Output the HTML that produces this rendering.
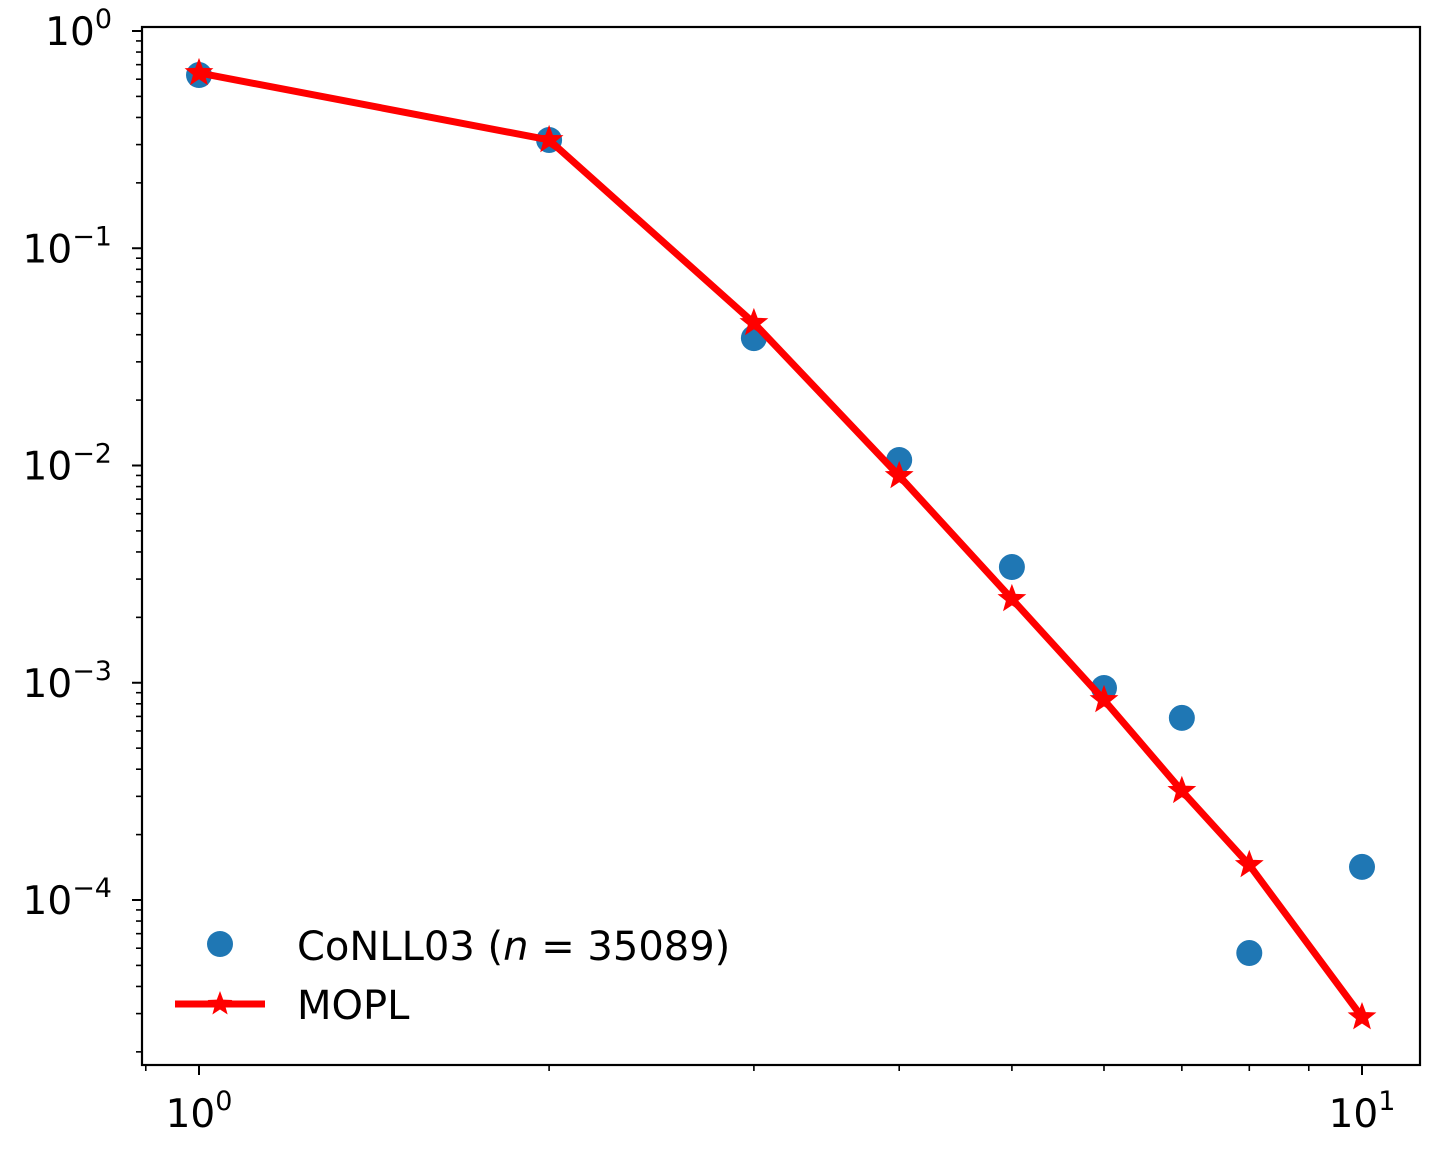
<!DOCTYPE html>
<html><head><meta charset="utf-8"><style>
html,body{margin:0;padding:0;background:#fff;}
svg{display:block;font-family:"DejaVu Sans","Liberation Sans",sans-serif;}
</style></head><body>
<svg id="chart" width="1434" height="1151" xmlns="http://www.w3.org/2000/svg"></svg>
<script>
const xValues = [1, 2, 3, 4, 5, 6, 7, 8, 10];
const conllValues = [0.627, 0.315, 0.0386, 0.0106, 0.00341, 0.000946, 0.000689, 0.000057, 0.000142];
const moplValues = [0.641, 0.315, 0.0453, 0.00895, 0.00243, 0.000833, 0.000318, 0.000145, 0.0000289];
const xTickExps = [0, 1];
const yTickExps = [0, -1, -2, -3, -4];

const L = 142, R = 1420, T = 27, B = 1065;
const X0 = 199, XDEC = 1163, Y0 = 31, YDEC = 217.25;
function sx(v){ return X0 + Math.log10(v) * XDEC; }
function sy(v){ return Y0 - Math.log10(v) * YDEC; }

const svg = document.getElementById('chart');
const NS = 'http://www.w3.org/2000/svg';
function mk(tag, attrs, parent){
  const e = document.createElementNS(NS, tag);
  for (const k in attrs) e.setAttribute(k, attrs[k]);
  (parent || svg).appendChild(e);
  return e;
}

const defs = mk('defs', {});
const cp = mk('clipPath', {id: 'clip'}, defs);
mk('rect', {x: L, y: T, width: R - L, height: B - T}, cp);

const ticks = mk('g', {stroke: '#000'});


for (let e = -1; e <= 1; e++) {
  for (let m = 1; m <= 9; m++) {
    const v = m * Math.pow(10, e);
    const x = sx(v);
    if (x < L - 0.5 || x > R + 0.5) continue;
    const major = m === 1;
    mk('line', {x1: x, x2: x, y1: B, y2: B + (major ? 10 : 6), 'stroke-width': major ? 2 : 1.6}, ticks);
  }
}
for (let e = -5; e <= 0; e++) {
  for (let m = 1; m <= 9; m++) {
    const v = m * Math.pow(10, e);
    const y = sy(v);
    if (y < T - 0.5 || y > B + 0.5) continue;
    const major = m === 1;
    mk('line', {x1: L, x2: L - (major ? 10 : 6), y1: y, y2: y, 'stroke-width': major ? 2 : 1.6}, ticks);
  }
}

xTickExps.forEach(function(e){
  const t = mk('text', {x: sx(Math.pow(10, e)), y: 1127, 'font-size': 39, 'text-anchor': 'middle'});
  
  
  t.innerHTML = '10<tspan dy="-17" font-size="27">' + e + '</tspan>';
});
yTickExps.forEach(function(e){
  const t = mk('text', {x: 112, y: sy(Math.pow(10, e)) + 14, 'font-size': 39, 'text-anchor': 'end'});
  
  
  t.innerHTML = '10<tspan dy="-17" font-size="27">' + (e < 0 ? '\u2212' + (-e) : e) + '</tspan>';
});

const plot = mk('g', {'clip-path': 'url(#clip)'});



xValues.forEach(function(x, i){
  const c = mk('circle', {cx: sx(x), cy: sy(conllValues[i]), r: 13, fill: '#1f77b4'}, plot);
  
  
});

const pts = xValues.map(function(x, i){ return sx(x) + ',' + sy(moplValues[i]); }).join(' ');
const line = mk('polyline', {points: pts, fill: 'none', stroke: '#ff0000', 'stroke-width': 7, 'stroke-linejoin': 'round'}, plot);



function starPath(cx, cy, r){
  let d = '';
  for (let k = 0; k < 10; k++) {
    const rr = k % 2 === 0 ? r : r * 0.42;
    const a = -Math.PI / 2 + k * Math.PI / 5;
    d += (k ? 'L' : 'M') + (cx + rr * Math.cos(a)).toFixed(2) + ',' + (cy + rr * Math.sin(a)).toFixed(2);
  }
  return d + 'Z';
}
xValues.forEach(function(x, i){
  const s = mk('path', {d: starPath(sx(x), sy(moplValues[i]), 13), fill: '#ff0000', stroke: '#ff0000', 'stroke-width': 1.5}, plot);
  
  
});

const frame = mk('rect', {x: L, y: T, width: R - L, height: B - T, fill: 'none', stroke: '#000', 'stroke-width': 2.2});



const lg = mk('g', {});


const ld = mk('circle', {cx: 220, cy: 944, r: 13, fill: '#1f77b4'}, lg);


const lt1 = mk('text', {x: 297, y: 960, 'font-size': 40}, lg);


lt1.innerHTML = 'CoNLL03 (<tspan font-style="italic">n</tspan> = 35089)';
const ll = mk('line', {x1: 175, x2: 265, y1: 1004, y2: 1004, stroke: '#ff0000', 'stroke-width': 7}, lg);


const ls = mk('path', {d: starPath(220, 1004, 13), fill: '#ff0000'}, lg);


const lt2 = mk('text', {x: 297, y: 1019, 'font-size': 40}, lg);


lt2.textContent = 'MOPL';
</script>
</body></html>
